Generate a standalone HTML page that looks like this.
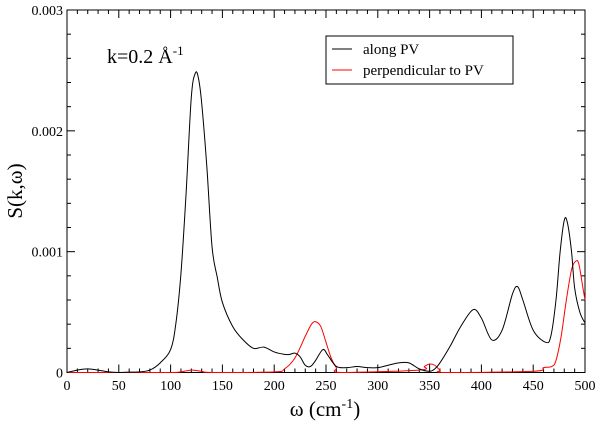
<!DOCTYPE html>
<html><head><meta charset="utf-8"><style>
body{margin:0;background:#fff}
svg{display:block;font-family:"Liberation Serif",serif}
</style></head><body>
<svg id="chart" width="600" height="426" viewBox="0 0 600 426">
<rect width="600" height="426" fill="#fff"/>
<g id="axes"></g>
<g id="series"></g>
<text x="107" y="63" font-size="20">k=0.2 Å<tspan dy="-8" font-size="13">-1</tspan></text>
<text x="325" y="416" font-size="21" text-anchor="middle">ω (cm<tspan dy="-8" font-size="14">-1</tspan><tspan dy="8">)</tspan></text>
<text transform="translate(22,191) rotate(-90)" font-size="21" text-anchor="middle">S(k,ω)</text>
<g>
<rect x="326" y="36" width="187" height="48" fill="#fff" stroke="#000" stroke-width="1"/>
<line x1="332" y1="49" x2="352" y2="49" stroke="#000"/>
<text x="363" y="54" font-size="15">along PV</text>
<line x1="332" y1="70" x2="352" y2="70" stroke="#f00"/>
<text x="363" y="75" font-size="15">perpendicular to PV</text>
</g>
</svg>
<script>
const blackX=[0,10,20,30,40,50,60,70,80,90,100,105,110,115,120,124,127,130,135,140,145,150,160,170,180,190,200,210,215,220,225,230,235,240,247,252,260,270,280,290,300,310,320,330,340,350,355,360,370,380,392,400,410,420,430,435,440,450,462,467,472,476,480,483,487,490,495,500];
const blackY=[0,0.02,0.03,0.02,0.005,0,0.003,0.005,0.02,0.08,0.19,0.4,0.82,1.49,2.28,2.48,2.43,2.23,1.7,1.04,0.79,0.58,0.38,0.27,0.2,0.21,0.17,0.15,0.15,0.16,0.13,0.06,0.05,0.1,0.19,0.14,0.05,0.04,0.05,0.04,0.04,0.06,0.08,0.08,0.03,0.01,0.03,0.08,0.22,0.38,0.52,0.45,0.27,0.35,0.65,0.71,0.6,0.35,0.25,0.3,0.6,1.0,1.26,1.24,1.0,0.7,0.5,0.41];
const redX=[0,50,100,110,120,130,140,200,210,220,230,236,240,245,250,255,260,265,340,345,350,355,360,365,450,460,468,472,477,482,487,491,494,498,500];
const redY=[0,0,0,0.005,0.02,0.01,0,0.005,0.03,0.12,0.3,0.4,0.42,0.38,0.25,0.12,0.04,0,0.02,0.05,0.07,0.06,0.02,0,0.01,0.04,0.05,0.1,0.3,0.6,0.85,0.92,0.9,0.7,0.6];
const xTicks=[0,50,100,150,200,250,300,350,400,450,500];
const yTicks=[0,0.001,0.002,0.003];
const yTickLabels=["0","0.001","0.002","0.003"];
const L=67,R=585,T=10,B=372.5;
const sx=v=>L+(v/500)*(R-L);
const sy=v=>B-(v/3)*(B-T);
const NS="http://www.w3.org/2000/svg";
const ax=document.getElementById('axes');
function mk(tag,attrs,parent){const e=document.createElementNS(NS,tag);for(const k in attrs)e.setAttribute(k,attrs[k]);parent.appendChild(e);return e;}
const frame=mk('rect',{x:L,y:T,width:R-L,height:B-T,fill:'none',stroke:'#000','stroke-width':1},ax);


for(let v=0;v<=500;v+=10){const maj=v%50===0;const l=maj?8:4;
 mk('line',{x1:sx(v),x2:sx(v),y1:B,y2:B-l,stroke:'#000'},ax);
 mk('line',{x1:sx(v),x2:sx(v),y1:T,y2:T+l,stroke:'#000'},ax);}
for(let i=0;i<=15;i++){const v=i*0.2;const maj=i%5===0;const l=maj?8:4;
 mk('line',{x1:L,x2:L+l,y1:sy(v),y2:sy(v),stroke:'#000'},ax);
 mk('line',{x1:R,x2:R-l,y1:sy(v),y2:sy(v),stroke:'#000'},ax);}
xTicks.forEach(v=>{const t=mk('text',{x:sx(v),y:390,'font-size':14,'text-anchor':'middle'},ax);t.textContent=v;
 
 });
yTicks.forEach((v,i)=>{const t=mk('text',{x:L-4,y:sy(v*1000)+5,'font-size':14,'text-anchor':'end'},ax);t.textContent=yTickLabels[i];
 
 });
function path(xs,ys){const p=xs.map((x,i)=>[sx(x),sy(ys[i])]);let d='M'+p[0][0]+','+p[0][1];
 for(let i=0;i<p.length-1;i++){const p0=p[Math.max(0,i-1)],p1=p[i],p2=p[i+1],p3=p[Math.min(p.length-1,i+2)];
  const c1=[p1[0]+(p2[0]-p0[0])/6,p1[1]+(p2[1]-p0[1])/6],c2=[p2[0]-(p3[0]-p1[0])/6,p2[1]-(p3[1]-p1[1])/6];
  d+=` C${c1[0]},${Math.min(c1[1],B)} ${c2[0]},${Math.min(c2[1],B)} ${p2[0]},${p2[1]}`;}
 return d;}
const sg=document.getElementById('series');
const pr=mk('path',{d:path(redX,redY),fill:'none',stroke:'#f00','stroke-width':1},sg);


const pb=mk('path',{d:path(blackX,blackY),fill:'none',stroke:'#000','stroke-width':1},sg);


</script>
</body></html>
